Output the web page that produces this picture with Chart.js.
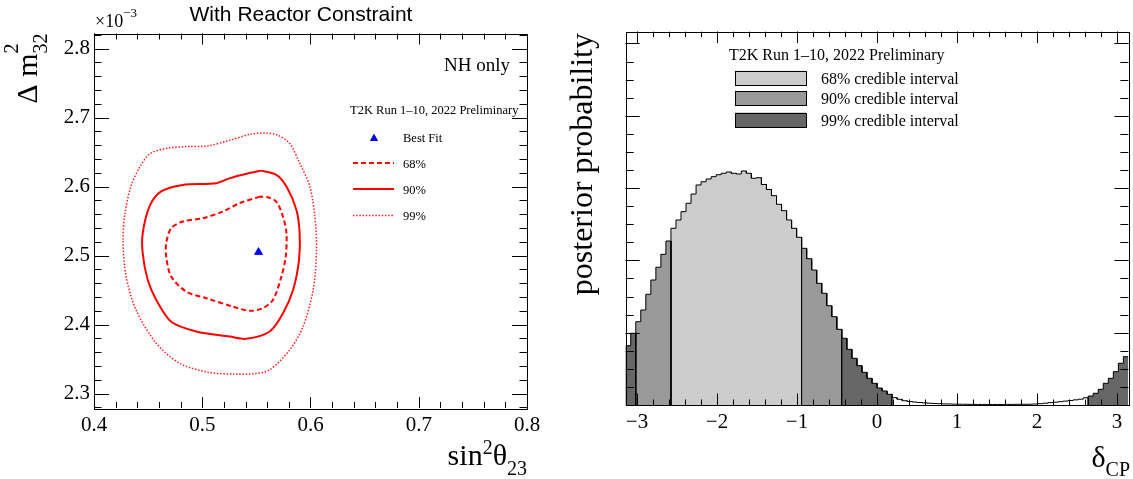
<!DOCTYPE html>
<html>
<head>
<meta charset="utf-8">
<script src="https://cdn.jsdelivr.net/npm/chart.js@4.4.0/dist/chart.umd.min.js"></script>
<style>
  body { margin: 0; background: #fff; }
  #wrap { position: relative; width: 1133px; height: 479px; }
  canvas { position: absolute; top: 0; }
</style>
</head>
<body>
<div id="wrap">
  <canvas id="contour" width="560" height="479" style="left:0"></canvas>
  <canvas id="dcp" width="573" height="479" style="left:560px"></canvas>
</div>
<script>
// ---- left panel: sin^2(theta23) vs dm2_32 (x1e-3) ----
const sinTicks = [0.4, 0.5, 0.6, 0.7, 0.8];
const dm2Ticks = [2.3, 2.4, 2.5, 2.6, 2.7, 2.8];
const bestFit = [[0.552, 2.505]];

const c68 = [[0.5531,2.5855],[0.5345,2.576],[0.519,2.5638],[0.5006,2.5542],[0.482,2.5493],[0.4713,2.5397],
  [0.4667,2.518],[0.4667,2.4986],[0.4713,2.4696],[0.4852,2.4478],[0.5037,2.4382],[0.5283,2.426],
  [0.5438,2.4199],[0.5561,2.4238],[0.5654,2.4358],[0.5731,2.4696],[0.5771,2.4986],[0.5778,2.5325],
  [0.5746,2.5565],[0.5685,2.578],[0.5607,2.5846],[0.5531,2.5855]];

const c90 = [[0.5546,2.6232],[0.5445,2.620],[0.525,2.612],[0.513,2.605],[0.482,2.6025],[0.462,2.593],
  [0.4512,2.571],[0.445,2.532],[0.445,2.503],[0.4496,2.465],[0.4574,2.436],[0.4713,2.404],
  [0.4944,2.390],[0.5253,2.3826],[0.5407,2.3793],[0.5623,2.390],[0.5746,2.4165],[0.5839,2.450],
  [0.5894,2.4938],[0.590,2.532],[0.587,2.566],[0.5778,2.600],[0.5685,2.617],[0.5546,2.6232]];

const c99 = [[0.5577,2.678],[0.5445,2.676],[0.525,2.667],[0.505,2.659],[0.485,2.658],[0.469,2.656],
  [0.452,2.648],[0.4425,2.629],[0.434,2.600],[0.4286,2.561],[0.4268,2.5227],[0.4296,2.470],
  [0.4389,2.421],[0.4574,2.373],[0.479,2.344],[0.505,2.331],[0.5314,2.328],[0.548,2.3287],
  [0.5623,2.3343],[0.5808,2.3633],[0.5931,2.397],[0.6024,2.450],[0.6056,2.508],[0.604,2.5565],
  [0.5994,2.600],[0.590,2.634],[0.5807,2.6626],[0.5692,2.675],[0.5577,2.678]];

// ---- right panel: delta_CP posterior, 100 bins on [-pi, pi] ----
const deltaTicks = [-3, -2, -1, 0, 1, 2, 3];
const post = [
  0.00820,0.00992,0.01152,0.01314,0.01531,0.01729,0.01905,0.02084,0.02268,0.02444,
  0.02559,0.02674,0.02790,0.02918,0.03043,0.03088,0.03126,0.03158,0.03185,0.03205,
  0.03223,0.03205,0.03195,0.03237,0.03205,0.03136,0.03144,0.03050,0.02981,0.02895,
  0.02776,0.02687,0.02559,0.02444,0.02320,0.02167,0.02023,0.01867,0.01683,0.01545,
  0.01373,0.01221,0.01047,0.00923,0.00770,0.00646,0.00544,0.00452,0.00369,0.00300,
  0.00235,0.00194,0.00148,0.00101,0.00079,0.00059,0.00048,0.00041,0.00035,0.00029,
  0.00025,0.00021,0.00018,0.00015,0.00014,0.00012,0.00011,0.00010,0.00009,0.00008,
  0.00008,0.00008,0.00007,0.00007,0.00007,0.00008,0.00008,0.00009,0.00010,0.00010,
  0.00011,0.00014,0.00018,0.00025,0.00033,0.00039,0.00046,0.00054,0.00062,0.00071,
  0.00080,0.00100,0.00124,0.00162,0.00217,0.00300,0.00369,0.00461,0.00577,0.00668];
// bin ranges (inclusive) of each credible interval
const bins68 = [[9, 34]];
const bins90 = [[2, 8], [35, 42]];
const bins99 = [[0, 1], [43, 52], [92, 99]];
const binsOut = [[53, 91]];
const intervalNames = ['68% credible interval', '90% credible interval', '99% credible interval'];

const SERIF = '"Liberation Serif", "Times New Roman", serif';
const binW = 2 * Math.PI / post.length;
const edge = i => -Math.PI + i * binW;

function stepPath(a, b) {
  const pts = [{x: edge(a), y: 0}];
  for (let i = a; i <= b; i++) {
    pts.push({x: edge(i), y: post[i]}, {x: edge(i + 1), y: post[i]});
  }
  pts.push({x: edge(b + 1), y: 0});
  return pts;
}

function range(lo, hi, step) {
  const out = [];
  for (let v = lo; v <= hi + 1e-9; v += step) out.push(+v.toFixed(6));
  return out;
}

// draw text made of pieces with their own size / vertical shift
function richText(ctx, parts, x, y, align) {
  let total = 0;
  parts.forEach(p => {
    ctx.font = p.size + 'px ' + (p.family || SERIF);
    p.w = ctx.measureText(p.t).width;
    if (!p.stack) total += p.w;
  });
  let cx = align === 'right' ? x - total : x;
  ctx.textAlign = 'left';
  ctx.textBaseline = 'alphabetic';
  parts.forEach(p => {
    ctx.font = p.size + 'px ' + (p.family || SERIF);
    ctx.fillText(p.t, cx, y + (p.dy || 0));
    if (!p.stack) cx += p.w;
  });
}

// ROOT-like frame with inward ticks on all sides
const rootFrame = {
  id: 'rootFrame',
  afterDraw(chart, args, o) {
    const {ctx, chartArea: a} = chart;
    const x = chart.scales.x, y = chart.scales.y;
    ctx.save();
    ctx.strokeStyle = '#000';
    ctx.lineWidth = 1;
    ctx.beginPath();
    const xt = (vals, len) => vals.forEach(v => {
      const px = Math.round(x.getPixelForValue(v)) + 0.5;
      if (px < a.left || px > a.right) return;
      ctx.moveTo(px, a.bottom); ctx.lineTo(px, a.bottom - len);
      ctx.moveTo(px, a.top); ctx.lineTo(px, a.top + len);
    });
    const yt = (vals, len) => vals.forEach(v => {
      const py = Math.round(y.getPixelForValue(v)) + 0.5;
      if (py < a.top || py > a.bottom) return;
      ctx.moveTo(a.left, py); ctx.lineTo(a.left + len, py);
      ctx.moveTo(a.right, py); ctx.lineTo(a.right - len, py);
    });
    xt(o.xMajor, o.xMajLen); xt(o.xMinor, o.xMinLen);
    yt(o.yMajor, o.yMajLen); yt(o.yMinor, o.yMinLen);
    ctx.stroke();
    ctx.strokeRect(Math.round(a.left) + 0.5, Math.round(a.top) + 0.5,
      Math.round(a.right - a.left), Math.round(a.bottom - a.top));
    ctx.restore();
  }
};

const tickFont = {family: SERIF, size: 21};

// ---------- left chart ----------
new Chart(document.getElementById('contour'), {
  type: 'scatter',
  data: {
    datasets: [
      {label: '99%', data: c99.map(p => ({x: p[0], y: p[1]})), showLine: true, tension: 0.3,
        borderColor: '#ff2020', borderWidth: 1.5, borderDash: [1.5, 1.7], pointRadius: 0},
      {label: '90%', data: c90.map(p => ({x: p[0], y: p[1]})), showLine: true, tension: 0.3,
        borderColor: '#ff0000', borderWidth: 2, pointRadius: 0},
      {label: '68%', data: c68.map(p => ({x: p[0], y: p[1]})), showLine: true, tension: 0.3,
        borderColor: '#ff0000', borderWidth: 2, borderDash: [5, 3], pointRadius: 0},
      {label: 'Best Fit', data: bestFit.map(p => ({x: p[0], y: p[1]})), pointStyle: 'triangle',
        pointRadius: 4.5, backgroundColor: '#0000ff', borderColor: '#0000ff'}
    ]
  },
  options: {
    responsive: false,
    animation: false,
    layout: {padding: {left: 0, top: 33.5, right: 33, bottom: 0}},
    plugins: {
      legend: {display: false},
      tooltip: {enabled: false},
      rootFrame: {
        xMajor: sinTicks, xMinor: range(0.4, 0.8, 0.02), xMajLen: 11, xMinLen: 6,
        yMajor: dm2Ticks, yMinor: range(2.28, 2.82, 0.02), yMajLen: 15, yMinLen: 7.5
      }
    },
    scales: {
      x: {
        type: 'linear', min: 0.4, max: 0.8,
        afterBuildTicks: s => { s.ticks = sinTicks.map(v => ({value: v})); },
        afterFit: s => { s.height = 71; },
        grid: {display: false, drawTicks: false}, border: {display: false},
        ticks: {font: tickFont, color: '#000', padding: 5, maxRotation: 0, autoSkip: false,
          callback: v => v.toFixed(1)}
      },
      y: {
        type: 'linear', min: 2.279, max: 2.822,
        afterBuildTicks: s => { s.ticks = dm2Ticks.map(v => ({value: v})); },
        afterFit: s => { s.width = 94; },
        grid: {display: false, drawTicks: false}, border: {display: false},
        ticks: {font: tickFont, color: '#000', padding: 4, autoSkip: false,
          callback: v => v.toFixed(1)}
      }
    }
  },
  plugins: [rootFrame, {
    id: 'leftText',
    afterDraw(chart) {
      const ctx = chart.ctx;
      ctx.save();
      ctx.fillStyle = '#000';
      // title
      ctx.font = '21px "Liberation Sans", Arial, sans-serif';
      ctx.textAlign = 'center';
      ctx.textBaseline = 'alphabetic';
      ctx.fillText('With Reactor Constraint', 301, 21);
      // exponent
      richText(ctx, [{t: '\u00d710', size: 18}, {t: '\u22123', size: 13, dy: -10}], 95, 27, 'left');
      // x title
      richText(ctx, [{t: 'sin', size: 30}, {t: '2', size: 20, dy: -11}, {t: '\u03b8', size: 30},
        {t: '23', size: 20, dy: 10}], 527, 465, 'right');
      // y title (rotated)
      ctx.save();
      ctx.translate(37, 33.5);
      ctx.rotate(-Math.PI / 2);
      richText(ctx, [{t: '\u0394 m', size: 30}, {t: '2', size: 20, dy: -19, stack: true},
        {t: '32', size: 20, dy: 10}], 0, 0, 'right');
      ctx.restore();
      // NH only
      ctx.font = '19px ' + SERIF;
      ctx.textAlign = 'right';
      ctx.fillText('NH only', 510, 71);
      // legend
      ctx.font = '12.5px ' + SERIF;
      ctx.textAlign = 'left';
      ctx.fillText('T2K Run 1\u201310, 2022 Preliminary', 350, 114);
      const ds = chart.data.datasets;
      Chart.helpers.drawPoint(ctx, {pointStyle: 'triangle', radius: 4.5, rotation: 0},
        374, 138.5);
      ctx.fillStyle = '#0000ff';
      ctx.fill();
      ctx.fillStyle = '#000';
      ctx.fillText('Best Fit', 403, 142);
      const rows = [[ds[2], 163, 167.5], [ds[1], 189, 193.5], [ds[0], 215.5, 220]];
      rows.forEach(([d, ly, ty]) => {
        ctx.save();
        ctx.strokeStyle = d.borderColor;
        ctx.lineWidth = d.borderWidth;
        ctx.setLineDash(d.borderDash || []);
        ctx.beginPath();
        ctx.moveTo(353, ly); ctx.lineTo(394, ly);
        ctx.stroke();
        ctx.restore();
        ctx.fillText(d.label, 403, ty);
      });
      ctx.restore();
    }
  }]
});

// ---------- right chart ----------
const fills = {b68: '#cccccc', b90: '#999999', b99: '#666666', out: '#ffffff'};
const histSets = [];
[[binsOut, fills.out], [bins99, fills.b99], [bins90, fills.b90], [bins68, fills.b68]].forEach(([spans, col]) => {
  spans.forEach(([a, b]) => histSets.push({
    data: stepPath(a, b), showLine: true, fill: 'origin', tension: 0,
    backgroundColor: col, borderColor: '#000', borderWidth: 1, pointRadius: 0
  }));
});

new Chart(document.getElementById('dcp'), {
  type: 'scatter',
  data: {datasets: histSets},
  options: {
    responsive: false,
    animation: false,
    layout: {padding: {left: 0, top: 31.7, right: 4.6, bottom: 0}},
    plugins: {
      legend: {display: false},
      tooltip: {enabled: false},
      rootFrame: {
        xMajor: deltaTicks, xMinor: range(-3.2, 3.2, 0.2), xMajLen: 11.5, xMinLen: 5.5,
        yMajor: range(0, 0.05, 0.01), yMinor: range(0, 0.05, 0.0025), yMajLen: 14, yMinLen: 8
      }
    },
    scales: {
      x: {
        type: 'linear', min: -Math.PI, max: Math.PI,
        afterBuildTicks: s => { s.ticks = deltaTicks.map(v => ({value: v})); },
        afterFit: s => { s.height = 74; },
        grid: {display: false, drawTicks: false}, border: {display: false},
        ticks: {font: tickFont, color: '#000', padding: 5, maxRotation: 0, autoSkip: false,
          callback: v => (v < 0 ? '\u2212' + Math.abs(v) : String(v))}
      },
      y: {
        type: 'linear', min: 0, max: 0.05163,
        afterFit: s => { s.width = 65.7; },
        grid: {display: false, drawTicks: false}, border: {display: false},
        ticks: {display: false}
      }
    }
  },
  plugins: [rootFrame, {
    id: 'rightText',
    afterDraw(chart) {
      const ctx = chart.ctx;
      ctx.save();
      ctx.fillStyle = '#000';
      // x title
      richText(ctx, [{t: '\u03b4', size: 30}, {t: 'CP', size: 20, dy: 9}], 570, 467, 'right');
      // y title
      ctx.save();
      ctx.translate(32, 33);
      ctx.rotate(-Math.PI / 2);
      ctx.font = '32px ' + SERIF;
      ctx.textAlign = 'right';
      ctx.textBaseline = 'alphabetic';
      ctx.fillText('posterior probability', 0, 0);
      ctx.restore();
      // legend
      ctx.font = '16px ' + SERIF;
      ctx.textAlign = 'left';
      ctx.fillText('T2K Run 1\u201310, 2022 Preliminary', 169, 60);
      const cols = [fills.b68, fills.b90, fills.b99];
      const tops = [70.7, 91.3, 112.7];
      intervalNames.forEach((name, i) => {
        ctx.fillStyle = cols[i];
        ctx.fillRect(175, tops[i], 71, 14.5);
        ctx.strokeStyle = '#000';
        ctx.lineWidth = 1;
        ctx.strokeRect(175.5, Math.round(tops[i]) + 0.5, 71, 14);
        ctx.fillStyle = '#000';
        ctx.fillText(name, 261, tops[i] + 13);
      });
      ctx.restore();
    }
  }]
});
</script>
</body>
</html>
